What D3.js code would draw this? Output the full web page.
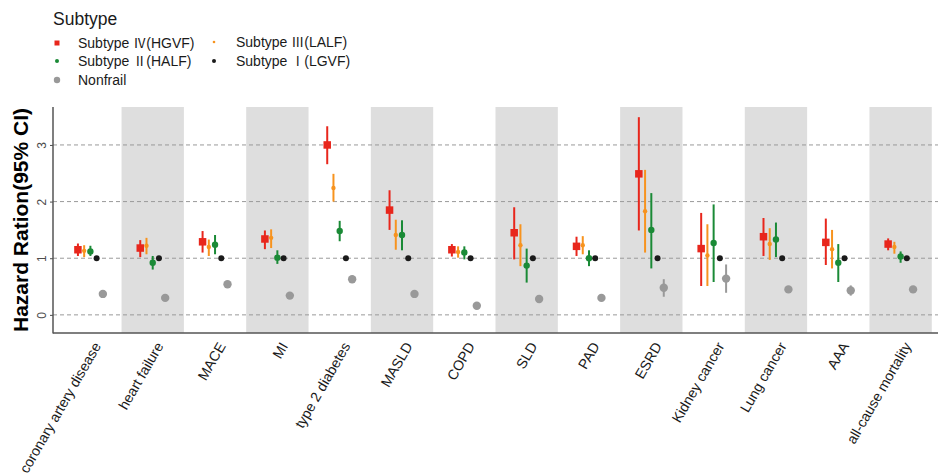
<!DOCTYPE html>
<html>
<head>
<meta charset="utf-8">
<script src="https://cdn.jsdelivr.net/npm/d3@7"></script>
<style>
  html, body { margin: 0; padding: 0; background: #fff; }
  svg { display: block; font-family: "Liberation Sans", Arial, sans-serif; }
</style>
</head>
<body>
<svg id="chart" width="943" height="473"></svg>
<script>
// Outcomes along the x axis
const categories = ["coronary artery disease", "heart failure", "MACE", "MI", "type 2 diabetes",
  "MASLD", "COPD", "SLD", "PAD", "ESRD", "Kidney cancer", "Lung cancer", "AAA", "all-cause mortality"];

// Hazard ratios with 95% CI per subtype
const hrIV = [1.15, 1.18, 1.29, 1.34, 3.00, 1.85, 1.15, 1.45, 1.21, 2.49, 1.17, 1.38, 1.28, 1.25];
const loIV = [1.04, 1.02, 1.10, 1.16, 2.66, 1.50, 1.03, 0.98, 1.04, 1.49, 0.51, 1.04, 0.88, 1.14];
const hiIV = [1.26, 1.32, 1.48, 1.49, 3.33, 2.20, 1.25, 1.90, 1.38, 3.49, 1.80, 1.71, 1.70, 1.35];

const hrIII = [1.13, 1.22, 1.20, 1.36, 2.24, 1.41, 1.11, 1.23, 1.23, 1.83, 1.05, 1.25, 1.16, 1.20];
const loIII = [1.02, 1.07, 1.04, 1.18, 2.00, 1.15, 1.01, 0.86, 1.07, 1.10, 0.51, 0.97, 0.82, 1.08];
const hiIII = [1.23, 1.36, 1.33, 1.51, 2.49, 1.68, 1.21, 1.60, 1.39, 2.56, 1.60, 1.53, 1.50, 1.29];

const hrII = [1.12, 0.92, 1.24, 1.01, 1.48, 1.41, 1.10, 0.87, 1.00, 1.50, 1.27, 1.33, 0.92, 1.03];
const loII = [1.04, 0.80, 1.07, 0.90, 1.30, 1.14, 0.98, 0.57, 0.86, 0.82, 0.58, 1.02, 0.58, 0.92];
const hiII = [1.22, 1.04, 1.41, 1.14, 1.66, 1.67, 1.21, 1.17, 1.14, 2.15, 1.95, 1.63, 1.25, 1.12];

// Subtype I is the reference group
const hrI = [1, 1, 1, 1, 1, 1, 1, 1, 1, 1, 1, 1, 1, 1];
const loI = [1, 1, 1, 1, 1, 1, 1, 1, 1, 1, 1, 1, 1, 1];
const hiI = [1, 1, 1, 1, 1, 1, 1, 1, 1, 1, 1, 1, 1, 1];

const hrNF = [0.37, 0.30, 0.54, 0.34, 0.63, 0.37, 0.16, 0.28, 0.30, 0.48, 0.64, 0.45, 0.43, 0.45];
const loNF = [0.35, 0.28, 0.51, 0.32, 0.60, 0.35, 0.15, 0.26, 0.28, 0.32, 0.39, 0.39, 0.34, 0.42];
const hiNF = [0.40, 0.32, 0.57, 0.36, 0.66, 0.40, 0.18, 0.30, 0.32, 0.63, 0.89, 0.51, 0.52, 0.48];

const yTicks = [0, 1, 2, 3];

// Legend label parts: prefix, Roman numeral, suffix
const groups = [
  { label: ["Subtype ", "Ⅳ", "(HGVF)"], hr: hrIV, lo: loIV, hi: hiIV, color: "#e8261c", shape: "square", size: 7.5 },
  { label: ["Subtype ", "Ⅲ", "(LALF)"], hr: hrIII, lo: loIII, hi: hiIII, color: "#f7931e", shape: "dot", size: 2.2 },
  { label: ["Subtype ", "Ⅱ", "(HALF)"], hr: hrII, lo: loII, hi: hiII, color: "#1a8a36", shape: "circle", size: 3.2 },
  { label: ["Subtype ", "Ⅰ", "(LGVF)"], hr: hrI, lo: loI, hi: hiI, color: "#1a1a1a", shape: "circle", size: 3 },
  { label: ["Nonfrail", "", ""], hr: hrNF, lo: loNF, hi: hiNF, color: "#999999", shape: "circle", size: 4.2 }
];

const svg = d3.select("#chart");
const plotLeft = 53, plotRight = 938, plotTop = 107, plotBottom = 333;

const x = d3.scalePoint().domain(categories).range([plotLeft, plotRight]).padding(0.6);
const step = x.step();
const y = d3.scaleLinear().domain([-0.32, 3.67]).range([plotBottom, plotTop]);
const dodge = d3.scalePoint().domain(d3.range(groups.length)).range([-0.2 * step, 0.2 * step]);

// Alternating shaded bands
svg.append("g").selectAll("rect")
  .data(categories.filter((d, i) => i % 2 === 1))
  .join("rect")
  .attr("x", d => x(d) - step / 2)
  .attr("y", plotTop)
  .attr("width", step)
  .attr("height", plotBottom - plotTop)
  .attr("fill", "#dedede");

// Dashed reference lines
svg.append("g").selectAll("line")
  .data(yTicks)
  .join("line")
  .attr("x1", plotLeft).attr("x2", plotRight)
  .attr("y1", d => y(d)).attr("y2", d => y(d))
  .attr("stroke", "#9a9a9a")
  .attr("stroke-width", 1)
  .attr("stroke-dasharray", "4,3");

// Error bars and point estimates
groups.forEach((g, gi) => {
  const layer = svg.append("g");
  const rows = categories.map((c, i) => ({ c, hr: g.hr[i], lo: g.lo[i], hi: g.hi[i] }));
  layer.selectAll("line")
    .data(rows.filter(r => r.hi > r.lo))
    .join("line")
    .attr("x1", r => x(r.c) + dodge(gi)).attr("x2", r => x(r.c) + dodge(gi))
    .attr("y1", r => y(r.lo)).attr("y2", r => y(r.hi))
    .attr("stroke", g.color)
    .attr("stroke-width", 2);
  if (g.shape === "square") {
    layer.selectAll("rect")
      .data(rows)
      .join("rect")
      .attr("x", r => x(r.c) + dodge(gi) - g.size / 2)
      .attr("y", r => y(r.hr) - g.size / 2)
      .attr("width", g.size).attr("height", g.size)
      .attr("fill", g.color);
  } else {
    layer.selectAll("circle")
      .data(rows)
      .join("circle")
      .attr("cx", r => x(r.c) + dodge(gi))
      .attr("cy", r => y(r.hr))
      .attr("r", g.size)
      .attr("fill", g.color);
  }
});

// Axes
const yAxis = svg.append("g")
  .attr("transform", `translate(${plotLeft},0)`)
  .call(d3.axisLeft(y).tickValues(yTicks).tickFormat(d3.format("d")).tickSize(3).tickPadding(4));
yAxis.select(".domain").remove();
yAxis.selectAll(".tick line").attr("stroke", "#4d4d4d");
yAxis.selectAll(".tick text")
  .attr("font-size", 12)
  .attr("fill", "#4d4d4d")
  .attr("font-family", "Liberation Sans, Arial, sans-serif")
  .attr("text-anchor", "middle")
  .attr("x", null)
  .attr("transform", "translate(-11,0) rotate(-90)")
  .attr("dy", "0.35em");

svg.append("line")
  .attr("x1", plotLeft).attr("x2", plotLeft)
  .attr("y1", plotTop).attr("y2", plotBottom + 0.5)
  .attr("stroke", "#555").attr("stroke-width", 1.5);
svg.append("line")
  .attr("x1", plotLeft).attr("x2", plotRight)
  .attr("y1", plotBottom).attr("y2", plotBottom)
  .attr("stroke", "#555").attr("stroke-width", 1.5);

const xAxis = svg.append("g")
  .attr("transform", `translate(0,${plotBottom})`)
  .call(d3.axisBottom(x).tickSize(0).tickPadding(0));
xAxis.select(".domain").remove();
xAxis.selectAll(".tick text")
  .attr("font-size", 14.2)
  .attr("fill", "#1a1a1a")
  .attr("font-family", "Liberation Sans, Arial, sans-serif")
  .attr("text-anchor", "end")
  .attr("y", 0).attr("dy", "0.7em")
  .attr("transform", "translate(2,8) rotate(-60)");

// Y axis title
svg.append("text")
  .attr("transform", `translate(28,${(plotTop + plotBottom) / 2}) rotate(-90)`)
  .attr("text-anchor", "middle")
  .attr("font-size", 21)
  .attr("font-weight", "bold")
  .attr("fill", "#000")
  .text("Hazard Ration(95% CI)");

// Legend
const legend = svg.append("g");
legend.append("text")
  .attr("x", 53).attr("y", 25)
  .attr("font-size", 17.5)
  .attr("fill", "#1a1a1a")
  .text("Subtype");
const legendPos = [[57, 43], [214, 42], [57, 61], [214, 61], [57, 80]];
groups.forEach((g, gi) => {
  const [lx, ly] = legendPos[gi];
  const item = legend.append("g").attr("transform", `translate(${lx},${ly})`);
  if (g.shape === "square") {
    item.append("rect").attr("x", -2.5).attr("y", -2.5).attr("width", 5).attr("height", 5).attr("fill", g.color);
  } else {
    const r = gi === 1 ? 1.3 : gi === 4 ? 3.2 : 2;
    item.append("circle").attr("r", r).attr("fill", g.color);
  }
  const t = item.append("text")
    .attr("x", gi % 2 === 1 ? 22 : 21).attr("y", 0).attr("dy", "0.36em")
    .attr("font-size", 14)
    .attr("fill", "#1a1a1a");
  t.append("tspan").text(g.label[0]);
  if (g.label[1]) {
    t.append("tspan").attr("font-family", "Noto Sans CJK SC").attr("font-size", 13).text(g.label[1]);
  }
  if (g.label[2]) t.append("tspan").text(g.label[2]);
});
</script>
</body>
</html>
